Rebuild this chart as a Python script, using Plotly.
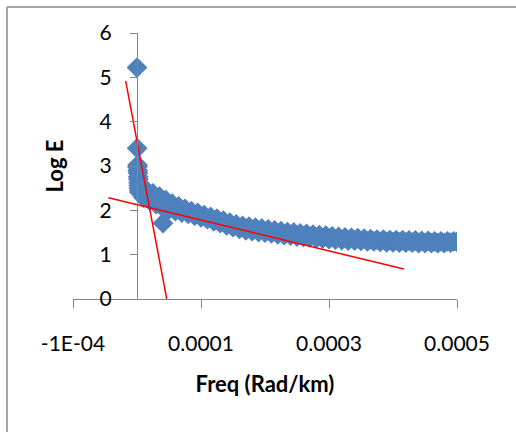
import plotly.graph_objects as go

# Radially averaged spectrum: frequency in micro-rad/km and log energy
freq_urad = [
    0, 0.3, 0.6, 0.9, 1.2, 1.5, 1.8, 2.1, 2.4, 2.7, 3.0, 3.5, 4.0,
    5, 10, 15, 20, 25, 30, 35, 40, 40.6, 45, 50,
    55, 60, 65, 70, 75, 80, 85, 90, 95, 100,
    105, 110, 115, 120, 125, 130, 135, 140, 145, 150,
    155, 160, 165, 170, 175, 180, 185, 190, 195, 200,
    205, 210, 215, 220, 225, 230, 235, 240, 245, 250,
    255, 260, 265, 270, 275, 280, 285, 290, 295, 300,
    305, 310, 315, 320, 325, 330, 335, 340, 345, 350,
    355, 360, 365, 370, 375, 380, 385, 390, 395, 400,
    405, 410, 415, 420, 425, 430, 435, 440, 445, 450,
    455, 460, 465, 470, 475, 480, 485, 490, 495, 500,
]
log_e = [
    5.22, 3.40, 2.98, 3.02, 2.90, 2.84, 2.76, 2.70, 2.62, 2.56, 2.50, 2.44, 2.40,
    2.52, 2.29, 2.45, 2.22, 2.38, 2.14, 2.31, 2.07, 1.71, 2.23, 2.02,
    2.15, 1.98, 2.09, 1.95, 2.03, 1.92, 1.98, 1.88, 1.94, 1.84,
    1.89, 1.80, 1.85, 1.75, 1.81, 1.71, 1.77, 1.66, 1.72, 1.62,
    1.68, 1.58, 1.65, 1.55, 1.63, 1.53, 1.61, 1.51, 1.59, 1.50,
    1.57, 1.48, 1.55, 1.46, 1.53, 1.44, 1.51, 1.43, 1.50, 1.41,
    1.48, 1.40, 1.47, 1.39, 1.45, 1.37, 1.44, 1.36, 1.43, 1.35,
    1.41, 1.34, 1.40, 1.33, 1.39, 1.32, 1.38, 1.32, 1.37, 1.31,
    1.36, 1.30, 1.35, 1.30, 1.34, 1.29, 1.34, 1.28, 1.33, 1.28,
    1.33, 1.27, 1.33, 1.27, 1.32, 1.27, 1.32, 1.26, 1.31, 1.26,
    1.31, 1.26, 1.30, 1.26, 1.30, 1.26, 1.30, 1.27, 1.30, 1.29,
]
freq = [v * 1e-6 for v in freq_urad]

# Hand-drawn straight-line segments (deep and shallow sources)
deep_x = [-1.77e-5, 4.64e-5]
deep_y = [4.92, 0.0]
shallow_x = [-4.48e-5, 4.17e-4]
shallow_y = [2.285, 0.677]

x_tickvals = [-1e-4, 1e-4, 3e-4, 5e-4]
x_ticktext = ["-1E-04", "0.0001", "0.0003", "0.0005"]
y_tickvals = [0, 1, 2, 3, 4, 5, 6]

AXIS_GREY = "#868686"
FONT = "Lato"

fig = go.Figure()
fig.add_trace(go.Scatter(
    x=freq, y=log_e, mode="markers",
    marker=dict(symbol="diamond", size=16, color="#4F81BD", line=dict(width=0)),
    hoverinfo="skip",
))
for xs, ys in ((deep_x, deep_y), (shallow_x, shallow_y)):
    fig.add_trace(go.Scatter(
        x=xs, y=ys, mode="lines",
        line=dict(color="#FF0000", width=1.5),
        hoverinfo="skip",
    ))

fig.update_layout(
    width=516, height=432,
    margin=dict(l=73, r=59, t=33, b=133),
    paper_bgcolor="white", plot_bgcolor="white",
    showlegend=False,
    font=dict(family=FONT, color="black"),
    xaxis=dict(
        range=[-1e-4, 5e-4],
        tickmode="array", tickvals=x_tickvals, ticktext=x_ticktext,
        ticks="outside", ticklen=8, tickcolor=AXIS_GREY, tickwidth=1,
        showline=True, linecolor=AXIS_GREY, linewidth=1,
        showgrid=False, zeroline=False,
        tickfont=dict(family=FONT, size=21, color="black"),
        ticklabelstandoff=18,
        title=dict(text="Freq (Rad/km)", standoff=22,
                   font=dict(family=FONT, size=22, color="black", weight="bold")),
    ),
    yaxis=dict(
        anchor="free", position=1 / 6,
        range=[0, 6],
        tickmode="array", tickvals=y_tickvals,
        ticks="outside", ticklen=7, tickcolor=AXIS_GREY, tickwidth=1,
        showline=True, linecolor=AXIS_GREY, linewidth=1,
        showgrid=False, zeroline=False,
        tickfont=dict(family=FONT, size=21, color="black"),
        ticklabelstandoff=14,
        title=dict(text="Log E", standoff=28,
                   font=dict(family=FONT, size=22, color="black", weight="bold")),
    ),
    shapes=[
        dict(type="line", xref="paper", yref="paper",
             x0=-0.171875, x1=1.17, y0=1.0977, y1=1.0977,
             line=dict(color="#A6A6A6", width=2)),
        dict(type="line", xref="paper", yref="paper",
             x0=-0.171875, x1=-0.171875, y0=1.0977, y1=-0.55,
             line=dict(color="#A6A6A6", width=2)),
    ],
)

fig.write_html("out.html")
